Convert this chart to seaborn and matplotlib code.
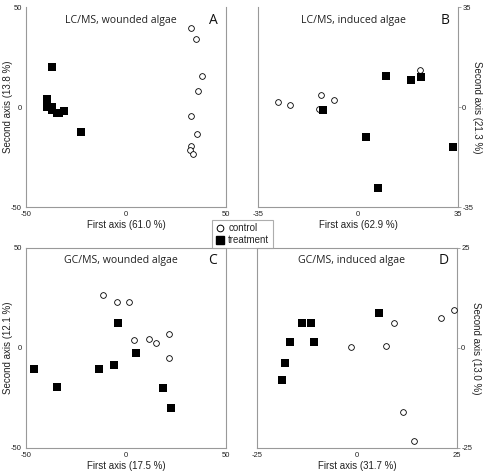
import matplotlib
matplotlib.use('Agg')
import matplotlib.pyplot as plt
import seaborn as sns
from matplotlib.lines import Line2D

sns.set_style('white')
plt.rcParams['font.family'] = ['Liberation Sans', 'DejaVu Sans']

# A: LC/MS, wounded algae
a_ctrl_x = [32.3, 35.0, 38.0, 36.0, 32.3, 35.3, 32.7, 31.8, 33.5]
a_ctrl_y = [39.5, 33.8, 15.3, 8.0, -4.7, -13.3, -19.5, -21.3, -23.3]
a_trt_x = [-36.8, -39.3, -39.3, -37.2, -36.8, -34.3, -33.3, -31.0, -22.3]
a_trt_y = [20.0, 4.0, -0.2, 0.2, -1.7, -3.2, -3.2, -2.0, -12.7]

# B: LC/MS, induced algae
b_ctrl_x = [-28.1, -23.7, -13.0, -8.5, -13.8, 21.8]
b_ctrl_y = [1.6, 0.8, 4.1, 2.6, -0.8, 12.9]
b_trt_x = [-12.2, 9.8, 18.4, 21.9, 2.7, 33.2, 6.9]
b_trt_y = [-1.2, 10.8, 9.4, 10.5, -10.4, -13.9, -28.2]

# C: GC/MS, wounded algae
c_ctrl_x = [-11.5, -4.7, 1.5, 4.2, 11.7, 14.8, 21.7, 21.5]
c_ctrl_y = [26.5, 22.8, 23.2, 4.2, 4.3, 2.5, 7.2, -5.0]
c_trt_x = [-4.0, 5.0, -6.0, -13.3, -46.0, -34.3, 18.3, 22.3]
c_trt_y = [12.3, -2.7, -8.5, -10.7, -10.3, -19.3, -19.8, -30.0]

# D: GC/MS, induced algae
d_ctrl_x = [-1.4, 7.2, 9.2, 21.1, 24.2, 11.6, 14.2]
d_ctrl_y = [0.2, 0.6, 6.2, 7.4, 9.6, -16.1, -23.3]
d_trt_x = [5.4, -13.8, -11.5, -16.7, -10.8, -18.0, -18.7]
d_trt_y = [8.7, 6.2, 6.2, 1.6, 1.6, -3.7, -7.9]

panels = [
    dict(ctrl=(a_ctrl_x, a_ctrl_y), trt=(a_trt_x, a_trt_y), lim=50,
         title='LC/MS, wounded algae', letter='A',
         xlab='First axis (61.0 %)', ylab='Second axis (13.8 %)',
         right=False, top=False, pos=[26, 7]),
    dict(ctrl=(b_ctrl_x, b_ctrl_y), trt=(b_trt_x, b_trt_y), lim=35,
         title='LC/MS, induced algae', letter='B',
         xlab='First axis (62.9 %)', ylab='Second axis (21.3 %)',
         right=True, top=False, pos=[258, 7]),
    dict(ctrl=(c_ctrl_x, c_ctrl_y), trt=(c_trt_x, c_trt_y), lim=50,
         title='GC/MS, wounded algae', letter='C',
         xlab='First axis (17.5 %)', ylab='Second axis (12.1 %)',
         right=False, top=True, pos=[26, 248]),
    dict(ctrl=(d_ctrl_x, d_ctrl_y), trt=(d_trt_x, d_trt_y), lim=25,
         title='GC/MS, induced algae', letter='D',
         xlab='First axis (31.7 %)', ylab='Second axis (13.0 %)',
         right=True, top=True, pos=[257, 248]),
]

W, H = 485, 476
fig = plt.figure(figsize=(W / 100, H / 100), dpi=100)
grey = '#999999'

for p in panels:
    x0, y0 = p['pos']
    ax = fig.add_axes([x0 / W, 1 - (y0 + 200) / H, 200 / W, 200 / H])
    sns.scatterplot(x=p['ctrl'][0], y=p['ctrl'][1], ax=ax, marker='o', s=17,
                    color='white', edgecolor='black', linewidth=0.6, zorder=3)
    sns.scatterplot(x=p['trt'][0], y=p['trt'][1], ax=ax, marker='s', s=30,
                    color='black', edgecolor='black', linewidth=0, zorder=4)
    lim = p['lim']
    ax.set_xlim(-lim, lim)
    ax.set_ylim(-lim, lim)
    ticks = [-lim, 0, lim]
    ax.set_xticks(ticks)
    ax.set_yticks(ticks)
    ax.set_xticklabels([str(t) for t in ticks])
    ax.set_yticklabels([str(t) for t in ticks])
    ax.tick_params(axis='both', labelsize=5.5, length=2, width=0.6,
                   color=grey, pad=1, labelcolor='#222222', direction='out')
    for name, sp in ax.spines.items():
        sp.set_color(grey)
        sp.set_linewidth(0.8)
    ax.spines['top'].set_visible(p['top'])
    ax.set_xlabel(p['xlab'], fontsize=7, color='#222222')
    ax.xaxis.set_label_coords(0.5, -0.09)
    ax.xaxis.label.set_va('center')
    if p['right']:
        ax.yaxis.tick_right()
        ax.yaxis.set_label_position('right')
        ax.set_ylabel(p['ylab'], fontsize=7, rotation=270, color='#222222')
        ax.yaxis.set_label_coords(1.095, 0.5)
    else:
        ax.set_ylabel(p['ylab'], fontsize=7, color='#222222')
        ax.yaxis.set_label_coords(-0.09, 0.5)
    ax.yaxis.label.set_va('center')
    ax.yaxis.label.set_ha('center')
    ax.text(0.475, 0.935, p['title'], transform=ax.transAxes, ha='center',
            va='center', fontsize=7.6, family=['Open Sans', 'DejaVu Sans'],
            color='#222222')
    ax.text(0.935, 0.935, p['letter'], transform=ax.transAxes, ha='center',
            va='center', fontsize=10, family=['Open Sans', 'DejaVu Sans'],
            color='#111111')

handles = [
    Line2D([], [], marker='o', linestyle='', markersize=4.8,
           markerfacecolor='white', markeredgecolor='black',
           markeredgewidth=0.7, label='control'),
    Line2D([], [], marker='s', linestyle='', markersize=5.2,
           markerfacecolor='black', markeredgecolor='black', label='treatment'),
]
leg = fig.legend(handles=handles, loc='center', bbox_to_anchor=(0.5, 0.508),
                 fontsize=7, frameon=True, fancybox=False,
                 handlelength=0.9, handletextpad=0.4, borderpad=0.35,
                 labelspacing=0.15, borderaxespad=0)
leg.get_frame().set_edgecolor(grey)
leg.get_frame().set_linewidth(0.8)

fig.savefig('out.png', dpi=100)
